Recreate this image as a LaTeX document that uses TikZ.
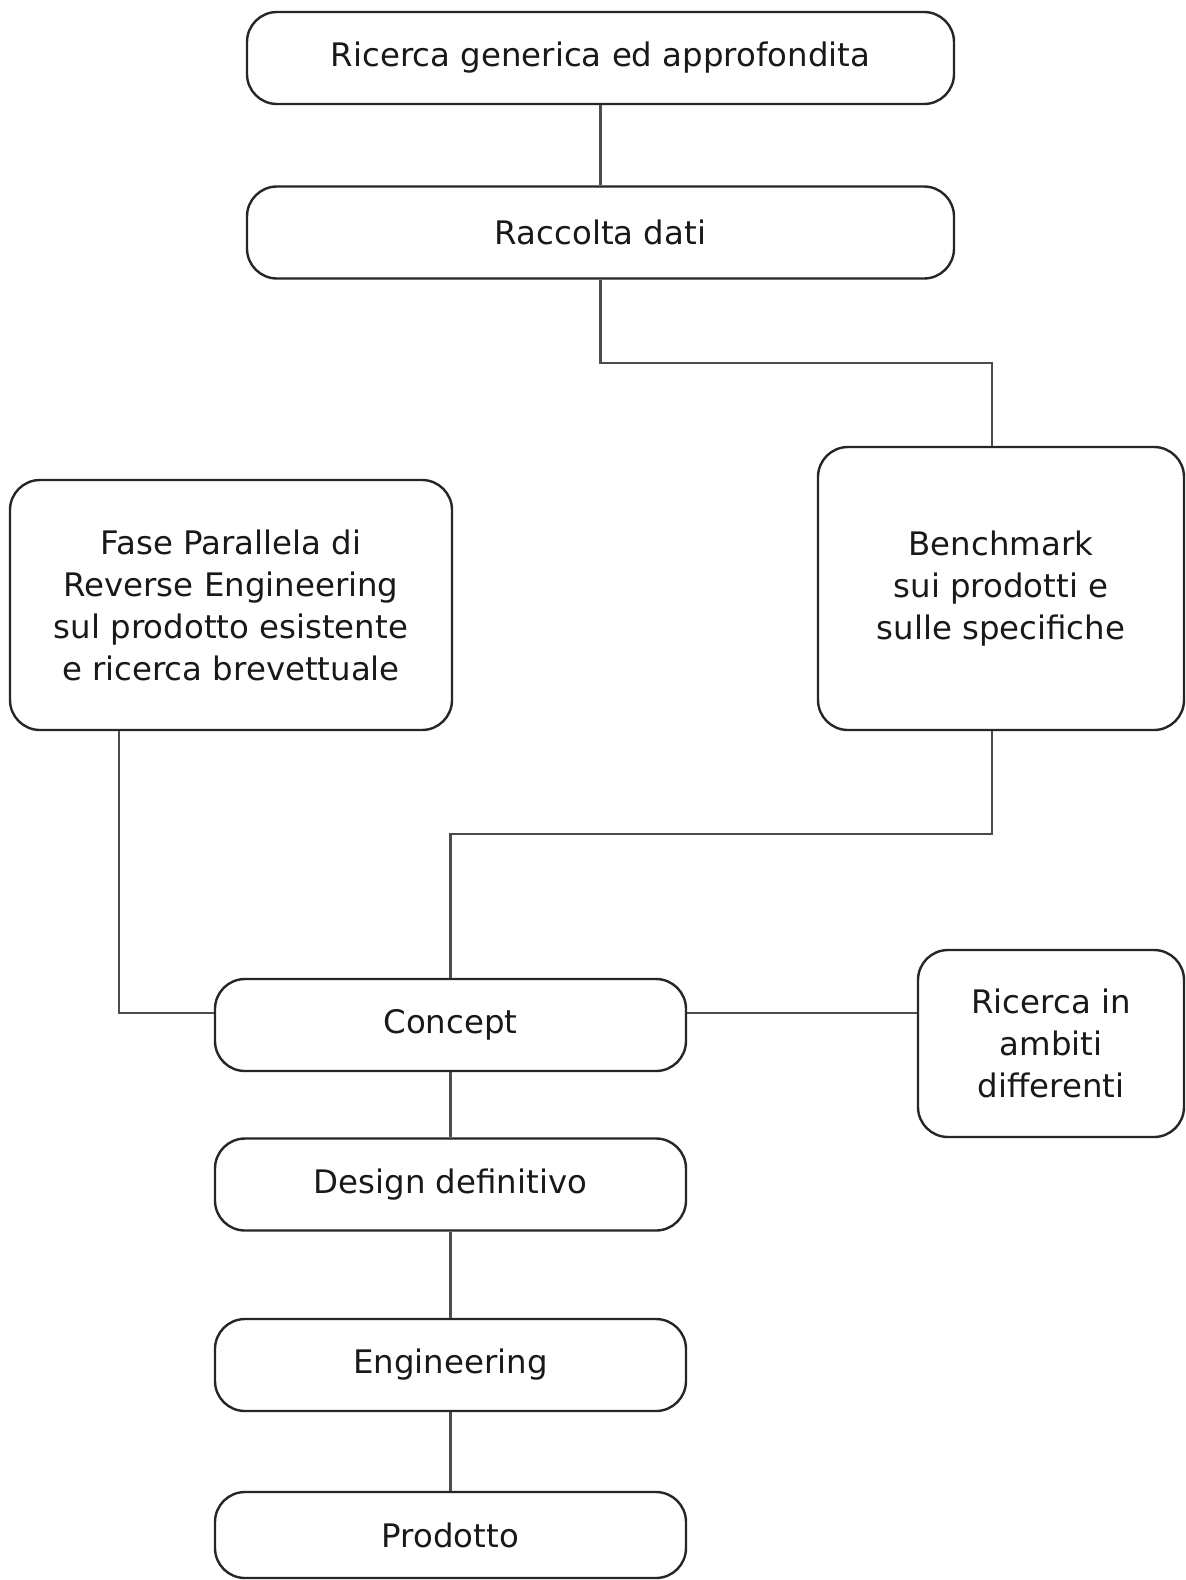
\documentclass[tikz,border=0pt]{standalone}
\usepackage{fontspec}
\setmainfont{DejaVu Sans}
\usepackage{tikz}

\tikzset{
  fase/.style={draw=black!85, line width=1.2pt, rounded corners=15pt, fill=white,
    align=center, inner sep=0pt, text=black!90, font=\fontsize{16.2pt}{21pt}\selectfont},
  link/.style={draw=black!70, line width=1.3pt}
}

\begin{document}
\begin{tikzpicture}[x=0.5pt,y=-0.5pt]
    \useasboundingbox (0,0) rectangle (1186,1580);
    % upper chain
    \node[fase, minimum width=353.5pt, minimum height=46pt] (ricerca) at (600.5,58) {Ricerca generica ed approfondita};
    \node[fase, minimum width=353.5pt, minimum height=46pt] (raccolta) at (600.5,232.5) {Raccolta dati};
    \node[fase, minimum width=183pt, minimum height=141.5pt] (bench) at (1001,588.5) {Benchmark\\sui prodotti e\\sulle specifiche};
    \node[fase, minimum width=221pt, minimum height=125pt] (reverse) at (231,605) {Fase Parallela di\\Reverse Engineering\\sul prodotto esistente\\ e ricerca brevettuale};
    % lower chain
    \node[fase, minimum width=235.5pt, minimum height=46pt] (concept) at (450.5,1025) {Concept};
    \node[fase, minimum width=133pt, minimum height=93.5pt] (ambiti) at (1051,1043.5) {Ricerca in\\ambiti\\differenti};
    \node[fase, minimum width=235.5pt, minimum height=46pt] (design) at (450.5,1184.5) {Design definitivo};
    \node[fase, minimum width=235.5pt, minimum height=46pt] (engin) at (450.5,1365) {Engineering};
    \node[fase, minimum width=235.5pt, minimum height=43pt] (prodotto) at (450.5,1535) {Prodotto};
    % elbows
    \coordinate (k1) at (992,363);
    \coordinate (k2) at (992,834);
    \coordinate (k3) at (119,1013);
    \draw[link] (ricerca) -- (raccolta);
    \draw[link] (raccolta.south) |- (k1) -- (k1 |- bench.north);
    \draw[link] (k2 |- bench.south) -- (k2) -| (concept.north);
    \draw[link] (k3 |- reverse.south) -- (k3) -- (k3 -| concept.west);
    \draw[link] (k3 -| concept.east) -- (k3 -| ambiti.west);
    \draw[link] (concept) -- (design);
    \draw[link] (design) -- (engin);
    \draw[link] (engin) -- (prodotto);
\end{tikzpicture}
\end{document}
